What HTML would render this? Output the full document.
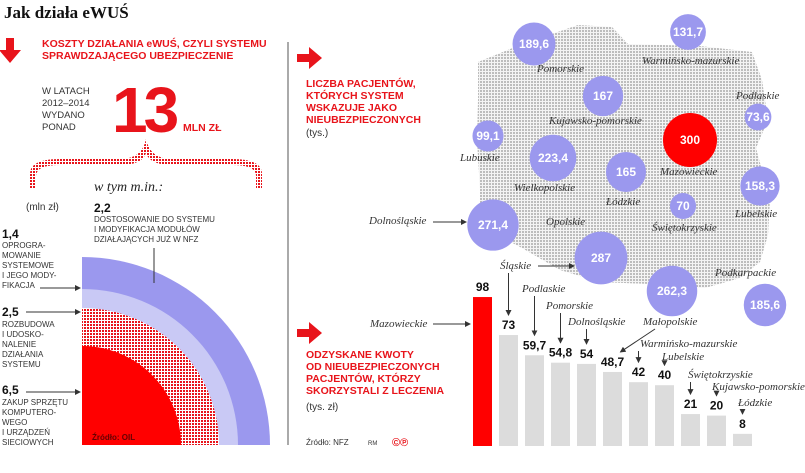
<!DOCTYPE html>
<html><head><meta charset="utf-8"><style>
body{margin:0;background:#fff;width:805px;height:468px;overflow:hidden;font-family:"Liberation Sans",sans-serif}
svg text{font-family:"Liberation Sans",sans-serif}
svg text.it{font-family:"Liberation Serif",serif;font-style:italic;font-size:11px;fill:#333}
.red{fill:#e8141b;font-weight:bold;font-size:10.5px}
.num{font-weight:bold;font-size:12px;fill:#111}
.cw{fill:#fff;font-weight:bold;font-size:12px;text-anchor:middle}
svg text.ttl{font-family:"Liberation Serif",serif}
</style></head><body>
<svg id="c" width="805" height="468" viewBox="0 0 805 468" xmlns="http://www.w3.org/2000/svg">
<defs>
<pattern id="dots" width="3" height="3" patternUnits="userSpaceOnUse"><rect width="3" height="3" fill="#f4f4f4"/><rect width="2" height="2" fill="#bdbdbd"/></pattern>
<pattern id="rdots" width="3" height="3" patternUnits="userSpaceOnUse"><rect width="3" height="3" fill="#fff"/><rect width="2" height="2" fill="#e8141b"/></pattern>
<marker id="ar" markerWidth="6" markerHeight="6" refX="5" refY="3" orient="auto"><path d="M0,0L6,3L0,6z" fill="#333"/></marker>
</defs>
<text x="4" y="18" class="ttl" font-weight="bold" font-size="17" fill="#111">Jak działa eWUŚ</text>
<path d="M6,38h8v12h7l-11,13l-11,-13h7z" fill="#e8141b"/>
<text x="42" y="47" class="red">KOSZTY DZIAŁANIA eWUŚ, CZYLI SYSTEMU</text>
<text x="42" y="59" class="red">SPRAWDZAJĄCEGO UBEZPIECZENIE</text>
<g font-size="9.5" fill="#333"><text x="42" y="94">W LATACH</text><text x="42" y="106">2012–2014</text><text x="42" y="118">WYDANO</text><text x="42" y="130">PONAD</text></g>
<text x="112" y="132" font-size="64" font-weight="bold" fill="#e8141b" letter-spacing="-4">13</text>
<text x="183" y="131" class="red" font-size="11">MLN ZŁ</text>
<path d="M30,188 v-14 q0,-15 30,-15 h60 q22,0 26,-20 q4,20 26,20 h60 q30,0 30,15 v14 h-6 v-12 q0,-11 -24,-11 h-60 q-22,0 -26,-12 q-4,12 -26,12 h-60 q-24,0 -24,11 v12z" fill="url(#rdots)"/>
<text x="94" y="191" class="ttl" font-style="italic" font-size="14" fill="#222">w tym m.in.:</text>
<text x="26" y="210" font-size="10" fill="#333">(mln zł)</text>
<g id="arcs"></g>
<g font-size="8" fill="#333">
<text x="94" y="212" class="num">2,2</text>
<text x="94" y="222">DOSTOSOWANIE DO SYSTEMU</text><text x="94" y="232">I MODYFIKACJA MODUŁÓW</text><text x="94" y="242">DZIAŁAJĄCYCH JUŻ W NFZ</text>
<text x="2" y="238" class="num">1,4</text>
<text x="2" y="248">OPROGRA-</text><text x="2" y="258">MOWANIE</text><text x="2" y="268">SYSTEMOWE</text><text x="2" y="278">I JEGO MODY-</text><text x="2" y="288">FIKACJA</text>
<text x="2" y="316" class="num">2,5</text>
<text x="2" y="327">ROZBUDOWA</text><text x="2" y="337">I UDOSKO-</text><text x="2" y="347">NALENIE</text><text x="2" y="357">DZIAŁANIA</text><text x="2" y="367">SYSTEMU</text>
<text x="2" y="394" class="num">6,5</text>
<text x="2" y="405">ZAKUP SPRZĘTU</text><text x="2" y="415">KOMPUTERO-</text><text x="2" y="425">WEGO</text><text x="2" y="435">I URZĄDZEŃ</text><text x="2" y="445">SIECIOWYCH</text>
</g>
<g stroke="#333" stroke-width="1" fill="none"><line x1="40" y1="288" x2="80" y2="288" marker-end="url(#ar)"/><line x1="26" y1="312" x2="80" y2="312" marker-end="url(#ar)"/><line x1="26" y1="392" x2="80" y2="392" marker-end="url(#ar)"/><line x1="154" y1="248" x2="154" y2="283"/></g>
<text x="92" y="440" font-size="8" font-weight="bold" fill="#600">Źródło: OIL</text>
<line x1="288" y1="42" x2="288" y2="445" stroke="#555" stroke-width="1"/>
<path d="M478,62 L520,45 L578,25 L612,27 L628,44 L700,46 L752,52 L762,80 L768,120 L756,148 L770,200 L768,235 L760,262 L740,278 L705,288 L650,284 L600,282 L560,270 L522,248 L480,226 L480,190 L477,140 L478,100z" fill="url(#dots)"/>
<path d="M306,45h8v12h7l-11,13l-11,-13h7z" transform="rotate(-90 310 58)" fill="#e8141b"/>
<g><text x="306" y="87" class="red">LICZBA PACJENTÓW,</text><text x="306" y="99" class="red">KTÓRYCH SYSTEM</text><text x="306" y="111" class="red">WSKAZUJE JAKO</text><text x="306" y="123" class="red">NIEUBEZPIECZONYCH</text></g>
<text x="306" y="136" font-size="10" fill="#333">(tys.)</text>
<g id="bubbles"></g>
<path d="M306,320h8v12h7l-11,13l-11,-13h7z" transform="rotate(-90 310 333)" fill="#e8141b"/>
<g><text x="306" y="358" class="red">ODZYSKANE KWOTY</text><text x="306" y="370" class="red">OD NIEUBEZPIECZONYCH</text><text x="306" y="382" class="red">PACJENTÓW, KTÓRZY</text><text x="306" y="394" class="red">SKORZYSTALI Z LECZENIA</text></g>
<text x="306" y="410" font-size="10" fill="#333">(tys. zł)</text>
<text x="306" y="445" font-size="8" fill="#333">Źródło: NFZ</text>
<text x="368" y="445" font-size="6" fill="#333">RM</text>
<text x="392" y="446" font-size="11" font-weight="bold" fill="#e8141b">©℗</text>
<text x="370" y="327" class="it">Mazowieckie</text><line x1="433" y1="324" x2="470" y2="324" stroke="#333" marker-end="url(#ar)"/>
<text x="369" y="224" class="it">Dolnośląskie</text><line x1="433" y1="222" x2="466" y2="222" stroke="#333" marker-end="url(#ar)"/>
<line x1="538" y1="266" x2="574" y2="266" stroke="#333" marker-end="url(#ar)"/>
<g id="bars"></g>
</svg>
<script>
const costLabels=["6,5","2,5","1,4","2,2"];
const costRadii=[99,137,156,188];
const costFills=["#ff0000","url(#rdots)","#c9c9f5","#9b98ee"];
const ns="http://www.w3.org/2000/svg";
const ox=82,oy=445;
const ag=document.getElementById('arcs');
for(let i=costRadii.length-1;i>=0;i--){const r=costRadii[i];const p=document.createElementNS(ns,'path');
p.setAttribute('d',`M${ox},${oy}V${oy-r}A${r},${r} 0 0 1 ${ox+r},${oy}Z`);p.setAttribute('fill',costFills[i]);


ag.appendChild(p);}
const regions=["Pomorskie","Warmińsko-mazurskie","Kujawsko-pomorskie","Mazowieckie","Podlaskie","Lubuskie","Wielkopolskie","Łódzkie","Lubelskie","Świętokrzyskie","Dolnośląskie","Opolskie","Śląskie","Podkarpackie"];
const patients=[189.6,131.7,167,300,73.6,99.1,223.4,165,158.3,70,271.4,287,262.3,185.6];
const cx=[534,688,603,690,758,488,553,626,760,683,493,601,672,765];
const cy=[44,32,96,140,117,136,158,172,186,206,225,258,291,305];
const lx=[537,642,549,660,736,460,514,606,735,652,0,546,0,715];
const ly=[72,64,124,175,99,161,191,205,217,231,0,225,0,276];
const bg=document.getElementById('bubbles');
patients.forEach((v,i)=>{const r=Math.sqrt(v/300)*27;const c=document.createElementNS(ns,'circle');
c.setAttribute('cx',cx[i]);c.setAttribute('cy',cy[i]);c.setAttribute('r',r);c.setAttribute('fill',regions[i]=="Mazowieckie"?"#ff0000":"#9b98ee");


bg.appendChild(c);
const t=document.createElementNS(ns,'text');t.setAttribute('x',cx[i]);t.setAttribute('y',cy[i]+4);t.setAttribute('class','cw');t.textContent=String(v).replace('.',',');


bg.appendChild(t);
if(lx[i]){const l=document.createElementNS(ns,'text');l.setAttribute('x',lx[i]);l.setAttribute('y',ly[i]);l.setAttribute('class','it');l.textContent=regions[i];


bg.appendChild(l);}});
const barRegions=["Mazowieckie","Śląskie","Podlaskie","Pomorskie","Dolnośląskie","Małopolskie","Warmińsko-mazurskie","Lubelskie","Świętokrzyskie","Kujawsko-pomorskie","Łódzkie"];
const recovered=[98,73,59.7,54.8,54,48.7,42,40,21,20,8];
const bx0=473,bstep=26,bw=19,base=446,scale=1.52;
const barLx=[0,500,522,546,568,643,640,662,688,712,738];
const barLy=[0,269,292,309,325,325,347,360,378,390,406];
const barAx=[0,508.5,534.5,560.5,586.5,655,638.5,664.5,690.5,716.5,742.5];
const gb=document.getElementById('bars');
recovered.forEach((v,i)=>{const x=bx0+i*bstep,h=v*scale;const r=document.createElementNS(ns,'rect');
r.setAttribute('x',x);r.setAttribute('y',base-h);r.setAttribute('width',bw);r.setAttribute('height',h);r.setAttribute('fill',i==0?'#ff0000':'#dcdcdc');


gb.appendChild(r);
const t=document.createElementNS(ns,'text');t.setAttribute('x',x+bw/2);t.setAttribute('y',base-h-6);t.setAttribute('text-anchor','middle');t.setAttribute('class','num');t.textContent=String(v).replace('.',',');


gb.appendChild(t);
if(barLx[i]){const l=document.createElementNS(ns,'text');l.setAttribute('x',barLx[i]);l.setAttribute('y',barLy[i]);l.setAttribute('class','it');l.setAttribute('font-size','10');l.textContent=barRegions[i];


gb.appendChild(l);
const a=document.createElementNS(ns,'line');a.setAttribute('x1',barAx[i]);a.setAttribute('x2',x+bw/2+(barAx[i]-x-bw/2>15?8:0));a.setAttribute('y1',barLy[i]+4);a.setAttribute('y2',base-h-20);a.setAttribute('stroke','#333');a.setAttribute('marker-end','url(#ar)');


gb.appendChild(a);}});
</script>
</body></html>
